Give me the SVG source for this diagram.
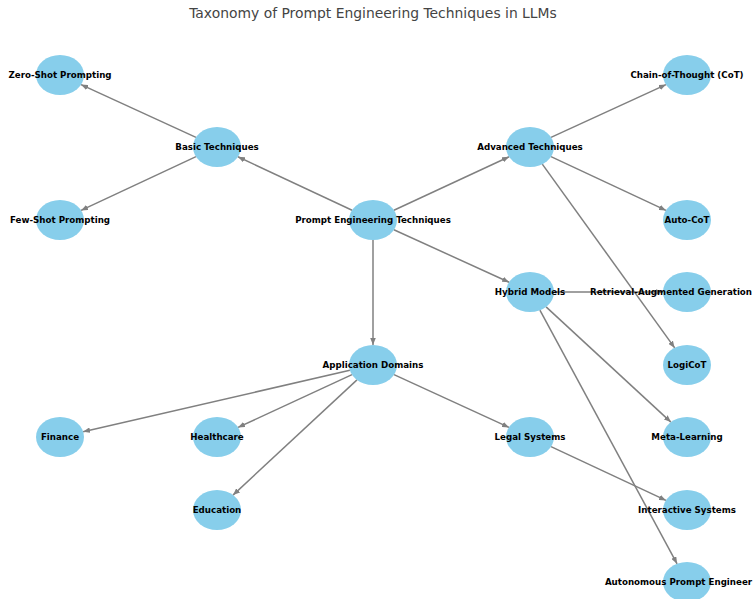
<svg xmlns="http://www.w3.org/2000/svg" width="753" height="599" viewBox="0 0 753 599">
<style>
.node ellipse{fill:#87CEEB;}
.node text{font-family:"DejaVu Sans",sans-serif;font-weight:bold;font-size:8.7px;fill:#000;text-anchor:middle;dominant-baseline:central;}
.edge{stroke:#808080;stroke-width:1.5;fill:none;marker-end:url(#arr);}
.title{font-family:"DejaVu Sans",sans-serif;font-size:13.9px;fill:#444;text-anchor:middle;}
</style>
<defs>
<marker id="arr" viewBox="0 0 10 8" refX="10" refY="4" markerWidth="7" markerHeight="5.6" markerUnits="userSpaceOnUse" orient="auto">
<path d="M0,0 L10,4 L0,8 Z" fill="#808080"/>
</marker>
</defs>
<rect width="753" height="599" fill="#fff"/>
<text class="title" x="373" y="18">Taxonomy of Prompt Engineering Techniques in LLMs</text>
<g id="connectors">
<line class="edge" x1="352.1" y1="210.2" x2="237.9" y2="156.8"/>
<line class="edge" x1="393.9" y1="210.2" x2="509.1" y2="156.8"/>
<line class="edge" x1="393.9" y1="229.8" x2="509.1" y2="282.2"/>
<line class="edge" x1="373" y1="240" x2="373" y2="345"/>
<line class="edge" x1="196" y1="137.4" x2="81" y2="84.6"/>
<line class="edge" x1="196" y1="156.6" x2="81" y2="210.4"/>
<line class="edge" x1="551" y1="137.4" x2="666" y2="84.6"/>
<line class="edge" x1="551" y1="156.6" x2="666" y2="210.4"/>
<line class="edge" x1="542.3" y1="164.1" x2="674.7" y2="347.9"/>
<line class="edge" x1="554" y1="292" x2="663" y2="292"/>
<line class="edge" x1="546.1" y1="306.9" x2="670.9" y2="422.1"/>
<line class="edge" x1="539.9" y1="310.2" x2="677.1" y2="563.8"/>
<line class="edge" x1="349.9" y1="370.3" x2="83.1" y2="431.7"/>
<line class="edge" x1="352" y1="374.6" x2="238" y2="427.4"/>
<line class="edge" x1="357" y1="379.9" x2="233" y2="495.1"/>
<line class="edge" x1="394" y1="374.6" x2="509" y2="427.4"/>
<line class="edge" x1="551" y1="446.6" x2="666" y2="500.4"/>
</g>
<g id="n-zero" class="node"><ellipse cx="60" cy="75" rx="24" ry="20"/><text x="60" y="75">Zero-Shot Prompting</text></g>
<g id="n-basic" class="node"><ellipse cx="217" cy="147" rx="24" ry="20"/><text x="217" y="147">Basic Techniques</text></g>
<g id="n-few" class="node"><ellipse cx="60" cy="220" rx="24" ry="20"/><text x="60" y="220">Few-Shot Prompting</text></g>
<g id="n-pet" class="node"><ellipse cx="373" cy="220" rx="24" ry="20"/><text x="373" y="220">Prompt Engineering Techniques</text></g>
<g id="n-adv" class="node"><ellipse cx="530" cy="147" rx="24" ry="20"/><text x="530" y="147">Advanced Techniques</text></g>
<g id="n-cot" class="node"><ellipse cx="687" cy="75" rx="24" ry="20"/><text x="687" y="75">Chain-of-Thought (CoT)</text></g>
<g id="n-autocot" class="node"><ellipse cx="687" cy="220" rx="24" ry="20"/><text x="687" y="220">Auto-CoT</text></g>
<g id="n-hybrid" class="node"><ellipse cx="530" cy="292" rx="24" ry="20"/><text x="530" y="292">Hybrid Models</text></g>
<g id="n-rag" class="node"><ellipse cx="687" cy="292" rx="24" ry="20"/><text x="671" y="292">Retrieval-Augmented Generation</text></g>
<g id="n-logicot" class="node"><ellipse cx="687" cy="365" rx="24" ry="20"/><text x="687" y="365">LogiCoT</text></g>
<g id="n-app" class="node"><ellipse cx="373" cy="365" rx="24" ry="20"/><text x="373" y="365">Application Domains</text></g>
<g id="n-finance" class="node"><ellipse cx="60" cy="437" rx="24" ry="20"/><text x="60" y="437">Finance</text></g>
<g id="n-health" class="node"><ellipse cx="217" cy="437" rx="24" ry="20"/><text x="217" y="437">Healthcare</text></g>
<g id="n-legal" class="node"><ellipse cx="530" cy="437" rx="24" ry="20"/><text x="530" y="437">Legal Systems</text></g>
<g id="n-meta" class="node"><ellipse cx="687" cy="437" rx="24" ry="20"/><text x="687" y="437">Meta-Learning</text></g>
<g id="n-edu" class="node"><ellipse cx="217" cy="510" rx="24" ry="20"/><text x="217" y="510">Education</text></g>
<g id="n-inter" class="node"><ellipse cx="687" cy="510" rx="24" ry="20"/><text x="687" y="510">Interactive Systems</text></g>
<g id="n-auto" class="node"><ellipse cx="687" cy="582" rx="24" ry="20"/><text x="678.5" y="582">Autonomous Prompt Engineer</text></g>
</svg>
